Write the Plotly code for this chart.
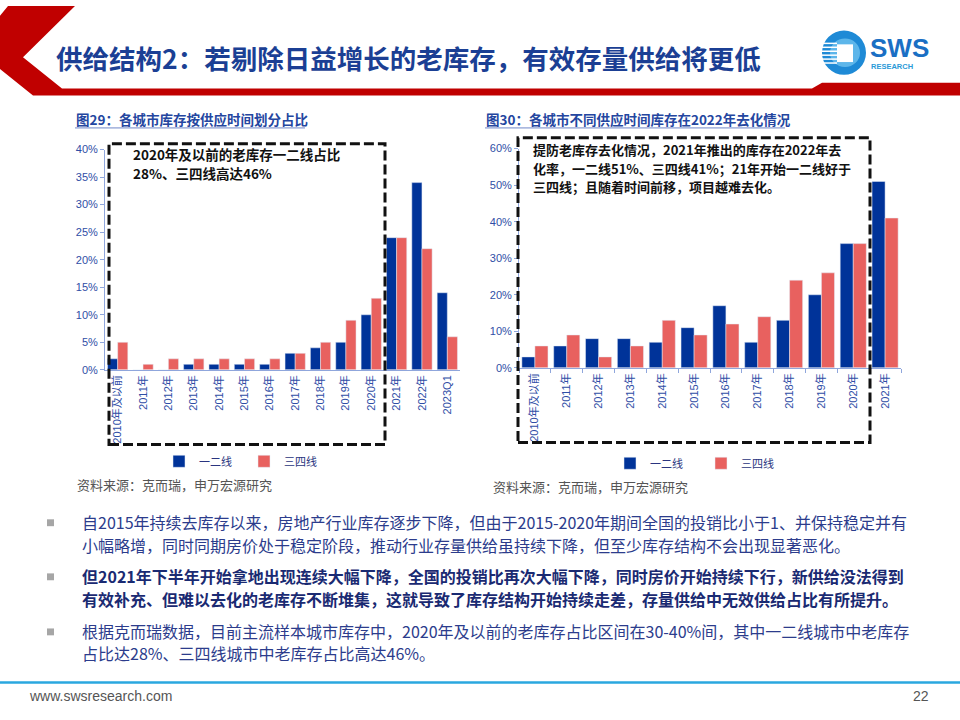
import plotly.graph_objects as go

W, H = 960, 720


def X(px):
    return px / W


def Y(py):
    return 1 - py / H


# ---------------- data ----------------
cats_left = ["2010年及以前", "2011年", "2012年", "2013年", "2014年", "2015年", "2016年",
             "2017年", "2018年", "2019年", "2020年", "2021年", "2022年", "2023Q1"]
tier12_left = [2, 0, 0, 1, 1, 1, 1, 3, 4, 5, 10, 24, 34, 14]
tier34_left = [5, 1, 2, 2, 2, 2, 2, 3, 5, 9, 13, 24, 22, 6]

cats_right = ["2010年及以前", "2011年", "2012年", "2013年", "2014年", "2015年", "2016年",
              "2017年", "2018年", "2019年", "2020年", "2021年"]
tier12_right = [3, 6, 8, 8, 7, 11, 17, 7, 13, 20, 34, 51]
tier34_right = [6, 9, 3, 6, 13, 9, 12, 14, 24, 26, 34, 41]

series_names = ["一二线", "三四线"]

# ---------------- styles ----------------
BLUE = "#003399"
RED = "#e8615f"
AX = "#8fa6dc"
TICK = "#2f4ea6"
CJK = "Noto Sans CJK SC"
LAT = "Liberation Sans, Noto Sans CJK SC"
NAVY = "#1b3f94"
TXT = "#2c3c8c"
TXTB = "#1a2a72"

fig = go.Figure()

fig.add_trace(go.Bar(x=cats_left, y=tier12_left, name=series_names[0], marker_color=BLUE,
                     width=0.4, offset=-0.4, xaxis="x", yaxis="y", legend="legend"))
fig.add_trace(go.Bar(x=cats_left, y=tier34_left, name=series_names[1], marker_color=RED,
                     width=0.4, offset=0.0, xaxis="x", yaxis="y", legend="legend"))
fig.add_trace(go.Bar(x=cats_right, y=tier12_right, name=series_names[0], marker_color=BLUE,
                     width=0.41, offset=-0.41, xaxis="x2", yaxis="y2", legend="legend2"))
fig.add_trace(go.Bar(x=cats_right, y=tier34_right, name=series_names[1], marker_color=RED,
                     width=0.41, offset=0.0, xaxis="x2", yaxis="y2", legend="legend2"))

tickfont = dict(size=11, color=TICK, family=LAT)

common_x = dict(type="category", showline=True, linecolor=AX, linewidth=1, showgrid=False,
                tickangle=-90, tickfont=tickfont, zeroline=False, fixedrange=True)
common_y = dict(showgrid=False, zeroline=False, showline=True, linecolor=AX, linewidth=1,
                ticks="outside", ticklen=4, tickcolor=AX, ticksuffix="%", tickfont=tickfont,
                fixedrange=True)

legend_common = dict(orientation="h", xanchor="left", yanchor="middle",
                     font=dict(size=11, color="#2a3580", family=CJK),
                     bgcolor="rgba(0,0,0,0)", itemwidth=30, traceorder="normal",
                     entrywidthmode="pixels")

# ---------------- shapes ----------------
shapes = []
# header red chevron + band
pts = [(8, 0), (75, 0), (23, 52), (62, 84), (812, 84), (822, 78), (960, 78), (960, 91),
       (33, 91), (0, 64), (0, 10)]
path = "M" + " L".join(f"{X(a):.5f},{Y(b):.5f}" for a, b in pts) + " Z"
shapes.append(dict(type="path", path=path, xref="paper", yref="paper",
                   fillcolor="#c00000", line=dict(width=0), layer="above"))

# logo
shapes.append(dict(type="circle", xref="paper", yref="paper", x0=X(822), x1=X(866), y0=Y(25), y1=Y(70),
                   fillcolor="#1e8ad6", line=dict(width=0)))
shapes.append(dict(type="circle", xref="paper", yref="paper", x0=X(830), x1=X(860), y0=Y(33), y1=Y(62),
                   fillcolor="#5db6ea", line=dict(width=0)))
shapes.append(dict(type="rect", xref="paper", yref="paper", x0=X(837), x1=X(853), y0=Y(39), y1=Y(57),
                   fillcolor="white", line=dict(width=0)))
for yy in [38, 42, 46, 50, 54, 58]:
    shapes.append(dict(type="line", xref="paper", yref="paper", x0=X(822), x1=X(837), y0=Y(yy), y1=Y(yy),
                       line=dict(color="white", width=1.5)))

# chart title underlines
shapes.append(dict(type="line", xref="paper", yref="paper", x0=X(75), x1=X(305), y0=Y(124), y1=Y(124),
                   line=dict(color="#6f86c8", width=1)))
shapes.append(dict(type="line", xref="paper", yref="paper", x0=X(485), x1=X(785), y0=Y(124), y1=Y(124),
                   line=dict(color="#6f86c8", width=1)))

# dashed boxes
shapes.append(dict(type="rect", xref="paper", yref="paper", x0=X(109), x1=X(385), y0=Y(446), y1=Y(140),
                   line=dict(color="#111111", width=3, dash="10px,4px"), fillcolor="rgba(0,0,0,0)",
                   layer="above"))
shapes.append(dict(type="rect", xref="paper", yref="paper", x0=X(518), x1=X(870), y0=Y(444), y1=Y(134),
                   line=dict(color="#111111", width=3, dash="10px,4px"), fillcolor="rgba(0,0,0,0)",
                   layer="above"))

# bullets
for yy in [525, 580, 636]:
    shapes.append(dict(type="rect", xref="paper", yref="paper", x0=X(47), x1=X(54), y0=Y(yy + 4), y1=Y(yy - 3),
                       fillcolor="#a6a6a6", line=dict(width=0)))

# footer line
shapes.append(dict(type="line", xref="paper", yref="paper", x0=0, x1=1, y0=Y(688), y1=Y(688),
                   line=dict(color="#2aa7df", width=2.5)))

# ---------------- annotations ----------------
ann = []


def txt(x, y, text, size, color, family=CJK, xanchor="left", yanchor="middle", align="left"):
    ann.append(dict(x=X(x), y=Y(y), xref="paper", yref="paper", text=text, showarrow=False,
                    xanchor=xanchor, yanchor=yanchor, align=align, borderpad=0,
                    font=dict(size=size, color=color, family=family)))


txt(55, 52, "<b>供给结构2：若剔除日益增长的老库存，有效存量供给将更低</b>", 26.5, NAVY)
txt(869, 43, "<b>SWS</b>", 26, "#1a6fc4", family="Liberation Sans")
txt(870, 62, "<b>RESEARCH</b>", 7.5, "#2a9ad8", family="Liberation Sans")

txt(75, 115, "<b>图29：各城市库存按供应时间划分占比</b>", 13.5, "#2446a0")
txt(485, 115, "<b>图30：各城市不同供应时间库存在2022年去化情况</b>", 13.5, "#2446a0")

box_left = ["2020年及以前的老库存一二线占比", "28%、三四线高达46%"]
for i, line in enumerate(box_left):
    txt(132, 150 + 19.7 * i, f"<b>{line}</b>", 13.5, "#111111")

box_right = ["提防老库存去化情况，2021年推出的库存在2022年去",
             "化率，一二线51%、三四线41%；21年开始一二线好于",
             "三四线；且随着时间前移，项目越难去化。"]
for i, line in enumerate(box_right):
    txt(532, 146 + 19 * i, f"<b>{line}</b>", 13, "#111111")

txt(76, 487, "资料来源：克而瑞，申万宏源研究", 13, "#555555")
txt(492, 489, "资料来源：克而瑞，申万宏源研究", 13, "#555555")

body = [
    (525, "自2015年持续去库存以来，房地产行业库存逐步下降，但由于2015-2020年期间全国的投销比小于1、并保持稳定并有", TXT),
    (548, "小幅略增，同时同期房价处于稳定阶段，推动行业存量供给虽持续下降，但至少库存结构不会出现显著恶化。", TXT),
    (580, "<b>但2021年下半年开始拿地出现连续大幅下降，全国的投销比再次大幅下降，同时房价开始持续下行，新供给没法得到</b>", TXTB),
    (603, "<b>有效补充、但难以去化的老库存不断堆集，这就导致了库存结构开始持续走差，存量供给中无效供给占比有所提升。</b>", TXTB),
    (636, "根据克而瑞数据，目前主流样本城市库存中，2020年及以前的老库存占比区间在30-40%间，其中一二线城市中老库存", TXT),
    (658, "占比达28%、三四线城市中老库存占比高达46%。", TXT),
]
for yy, t, c in body:
    txt(81, yy, t, 16, c)

txt(28, 702, "www.swsresearch.com", 14, "#555555", family="Liberation Sans Narrow, Liberation Sans")
txt(930, 702, "22", 14, "#555555", family="Liberation Sans Narrow, Liberation Sans", xanchor="right")

fig.update_layout(
    width=W, height=H, autosize=False,
    margin=dict(l=0, r=0, t=0, b=0),
    paper_bgcolor="white", plot_bgcolor="white",
    barmode="overlay",
    showlegend=True,
    xaxis=dict(domain=[X(105), X(460)], anchor="y", range=[-0.5, 13.5], ticks="", **common_x),
    yaxis=dict(domain=[Y(370), Y(146)], anchor="x", range=[0, 40], dtick=5, **common_y),
    xaxis2=dict(domain=[X(519), X(901)], anchor="y2", range=[-0.5, 11.5], ticks="outside",
                tickson="boundaries", ticklen=4, tickcolor=AX, **common_x),
    yaxis2=dict(domain=[Y(368), Y(145)], anchor="x2", range=[0, 60], dtick=10, **common_y),
    legend=dict(x=X(159), y=Y(463), entrywidth=40, **legend_common),
    legend2=dict(x=X(610), y=Y(465), entrywidth=46, **legend_common),
    shapes=shapes,
    annotations=ann,
)

fig.write_html("out.html", config={"displayModeBar": False},
               post_script="document.body.style.margin='0';document.body.style.overflow='hidden';")
